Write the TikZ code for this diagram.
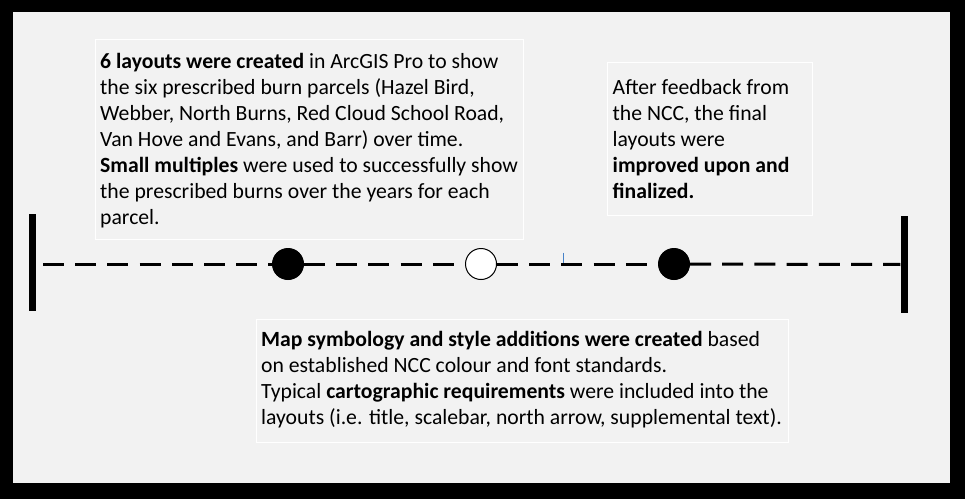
\documentclass[tikz,border=0pt]{standalone}
\usepackage{fontspec}
\setmainfont{Carlito}
\definecolor{bg}{HTML}{F2F2F2}
\definecolor{cursor}{RGB}{70,130,200}
\begin{document}
\begin{tikzpicture}[x=1pt,y=-1pt,
  box/.style={draw=white, line width=1pt, rectangle, inner sep=0pt, anchor=north west},
  txt/.style={anchor=base west, inner sep=0pt, align=left, font=\fontsize{21.7}{26}\selectfont},
  bar/.style={fill=black, rectangle, inner sep=0pt, minimum width=7pt, minimum height=97pt},
  dot/.style={circle, draw=black, line width=1pt, minimum size=31pt, inner sep=0pt},
  dashline/.style={line width=3pt, dash pattern=on 21pt off 11.2pt}]
\useasboundingbox (0,0) rectangle (965,499);
\fill[black] (0,0) rectangle (965,499);
\fill[bg] (13,12) rectangle (950,483);
% text boxes
\node[box, minimum width=428pt, minimum height=200pt] (b1) at (95,39) {};
\node[box, minimum width=205pt, minimum height=153pt] (b2) at (607,62) {};
\node[box, minimum width=532pt, minimum height=123pt] (b3) at (256,319) {};
% anchor base = baseline of the last line
\node[txt] (t1) at (100,224.5) {\textbf{6 layouts were created} in ArcGIS Pro to show\\the six prescribed burn parcels (Hazel Bird,\\Webber, North Burns, Red Cloud School Road,\\Van Hove and Evans, and Barr) over time.\\\textbf{Small multiples} were used to successfully show\\the prescribed burns over the years for each\\parcel.};
\node[txt] (t2) at (612.5,198) {After feedback from\\the NCC, the final\\layouts were\\\textbf{improved upon and}\\\textbf{finalized.}};
\node[txt] (t3) at (261,424) {\textbf{Map symbology and style additions were created} based\\on established NCC colour and font standards.\\Typical \textbf{cartographic requirements} were included into the\\layouts (i.e. title, scalebar, north arrow, supplemental text).};
% timeline
\node[bar] (barL) at (32,262.5) {};
\node[bar] (barR) at (904,264.5) {};
\coordinate (s0) at (43,264);
\node[dot, fill=black] (c1) at (288,264) {};
\node[dot, fill=white] (c2) at (481,264) {};
\node[dot, fill=black] (c3) at (674,264) {};
\draw[cursor, line width=0.8pt] (563.3,252.7) -- (563.3,264);
\draw[dashline] (s0) -- (c1);
\draw[dashline] (c1) -- (c2);
\draw[dashline] (c2) -- (c3);
\draw[dashline] (c3) -- (barR);
\end{tikzpicture}
\end{document}
